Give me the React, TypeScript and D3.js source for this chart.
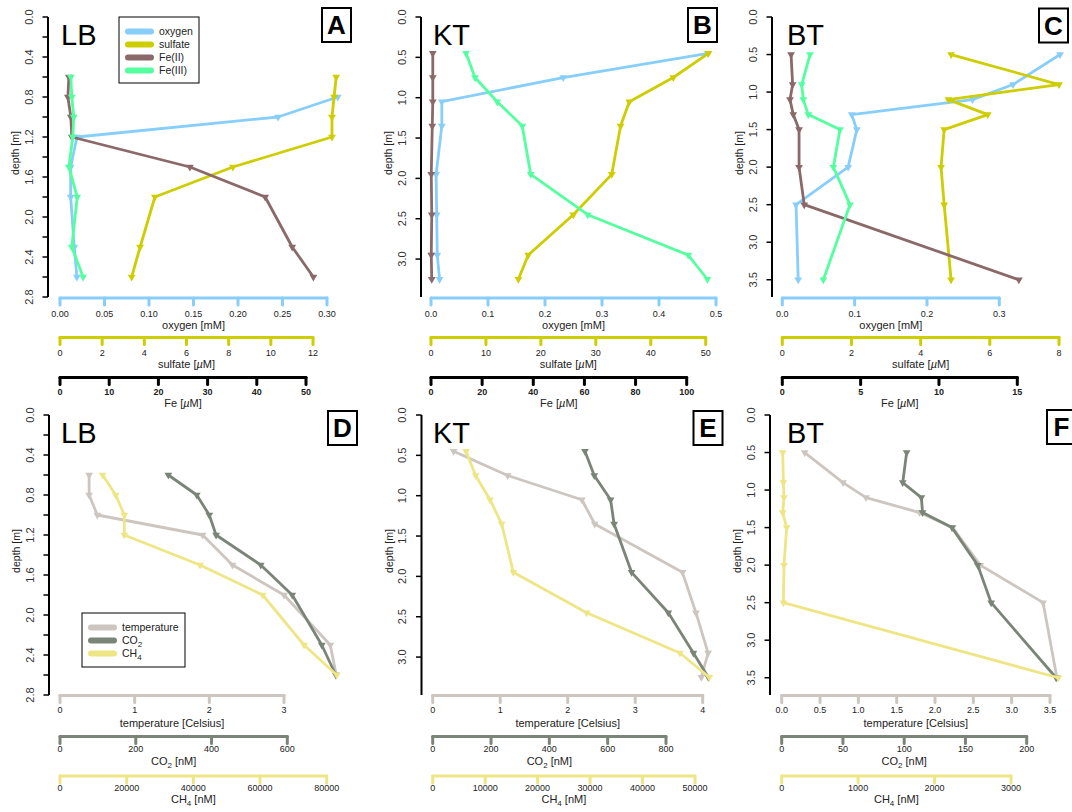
import React from "react";
import * as d3 from "d3";

// depth profiles [m]
const depthLB = [0.6, 0.8, 1.0, 1.2, 1.5, 1.8, 2.3, 2.6];
const depthLBoxygen = [0.8, 1.0, 1.2, 1.5, 1.8, 2.3, 2.6];
const depthKT = [0.45, 0.75, 1.05, 1.35, 1.95, 2.45, 2.95, 3.25];
const depthBT = [0.5, 0.9, 1.1, 1.3, 1.5, 2.0, 2.5, 3.5];

// LB
const oxygenLB = [0.312, 0.245, 0.019, 0.012, 0.012, 0.016, 0.019];
const sulfateLB = [13.1, 13.0, 12.9, 12.9, 8.2, 4.5, 3.8, 3.4];
const fe2LB = [1.8, 1.6, 2.2, 2.4, 26.4, 41.7, 47.2, 51.5];
const fe3LB = [2.2, 2.4, 2.8, 2.6, 1.8, 3.5, 2.4, 4.7];
const tempLB = [0.39, 0.39, 0.5, 1.91, 2.31, 3.0, 3.62, 3.7];
const co2LB = [286, 361, 394, 412, 530, 613, 691, 728];
const ch4LB = [12800, 16700, 19300, 19300, 42000, 60800, 73200, 83000];

// KT
const oxygenKT = [0.486, 0.232, 0.019, 0.019, 0.009, 0.01, 0.011, 0.015];
const sulfateKT = [50.5, 44.1, 36.1, 34.5, 32.9, 25.9, 17.7, 15.9];
const fe2KT = [0.7, 0.7, 0.7, 0.5, 0.1, 0.3, 0.1, 0.3];
const fe3KT = [13.7, 17.2, 25.9, 35.7, 39.0, 61.3, 100.6, 108.1];
const tempKT = [0.31, 1.11, 2.21, 2.4, 3.7, 3.9, 4.08, 3.98];
const co2KT = [522, 554, 610, 622, 682, 808, 894, 945];
const ch4KT = [6350, 8190, 10920, 13150, 15370, 29350, 47130, 52720];

// BT
const oxygenBT = [0.384, 0.319, 0.263, 0.096, 0.103, 0.091, 0.019, 0.022];
const sulfateBT = [4.88, 8.0, 4.8, 5.94, 4.68, 4.59, 4.68, 4.88];
const fe2BT = [0.56, 0.66, 0.49, 0.7, 1.07, 1.07, 1.4, 15.1];
const fe3BT = [1.77, 1.24, 1.34, 1.66, 3.68, 3.26, 4.32, 2.62];
const tempBT = [0.3, 0.8, 1.1, 1.8, 2.23, 2.59, 3.41, 3.59];
const co2BT = [102, 98.8, 114, 115, 139, 160, 171, 224];
const ch4BT = [13, 22, 30, 13, 65, 30, 22, 3619];

// tick values
const depthTicksLB = [0, 0.2, 0.4, 0.6, 0.8, 1.0, 1.2, 1.4, 1.6, 1.8, 2.0, 2.2, 2.4, 2.6, 2.8];
const depthTicksKT = [0, 0.5, 1.0, 1.5, 2.0, 2.5, 3.0];
const depthTicksBT = [0, 0.5, 1.0, 1.5, 2.0, 2.5, 3.0, 3.5];
const oxygenTicksLB = [0, 0.05, 0.1, 0.15, 0.2, 0.25, 0.3];
const oxygenTicksKT = [0, 0.1, 0.2, 0.3, 0.4, 0.5];
const oxygenTicksBT = [0, 0.1, 0.2, 0.3];
const sulfateTicksLB = [0, 2, 4, 6, 8, 10, 12];
const sulfateTicksKT = [0, 10, 20, 30, 40, 50];
const sulfateTicksBT = [0, 2, 4, 6, 8];
const feTicksLB = [0, 10, 20, 30, 40, 50];
const feTicksKT = [0, 20, 40, 60, 80, 100];
const feTicksBT = [0, 5, 10, 15];
const tempTicksLB = [0, 1, 2, 3];
const tempTicksKT = [0, 1, 2, 3, 4];
const tempTicksBT = [0, 0.5, 1.0, 1.5, 2.0, 2.5, 3.0, 3.5];
const co2TicksLB = [0, 200, 400, 600];
const co2TicksKT = [0, 200, 400, 600, 800];
const co2TicksBT = [0, 50, 100, 150, 200];
const ch4TicksLB = [0, 20000, 40000, 60000, 80000];
const ch4TicksKT = [0, 10000, 20000, 30000, 40000, 50000];
const ch4TicksBT = [0, 1000, 2000, 3000];

const FONT = "'Liberation Sans', Arial, Helvetica, sans-serif";
const C = {
  oxygen: "#87CEFA",
  sulfate: "#CDCD00",
  fe2: "#8B6969",
  fe3: "#54FF9F",
  fe: "#000000",
  temp: "#CDC5BF",
  co2: "#7A8578",
  ch4: "#EEE685",
};

const mu = <tspan fontStyle="italic">µ</tspan>;
const T = {
  oxygen: <>oxygen [mM]</>,
  sulfate: <>sulfate [{mu}M]</>,
  fe: <>Fe [{mu}M]</>,
  temp: <>temperature [Celsius]</>,
  co2: <>CO<tspan fontSize="8" dy="3">2</tspan><tspan dy="-3"> [nM]</tspan></>,
  ch4: <>CH<tspan fontSize="8" dy="3">4</tspan><tspan dy="-3"> [nM]</tspan></>,
};

const ROWS = [
  { top: 17, bottom: 297, axisY: [298, 337.5, 377.5], numY: [316.5, 355.5, 395], titleY: [328.5, 368, 406.5] },
  { top: 415, bottom: 695, axisY: [695.5, 736.5, 776], numY: [712.5, 751.5, 790.5], titleY: [727, 765, 803] },
];

const chemAxes = (oxT, oxEnd, oxFmt, suT, suEnd, feT, feEnd) => [
  { ticks: oxT, end: oxEnd, fmt: oxFmt, color: C.oxygen, title: T.oxygen },
  { ticks: suT, end: suEnd, fmt: "d", color: C.sulfate, title: T.sulfate },
  { ticks: feT, end: feEnd, fmt: "d", color: C.fe, title: T.fe, bold: true },
];
const gasAxes = (tT, tEnd, tFmt, cT, cEnd, mT, mEnd) => [
  { ticks: tT, end: tEnd, fmt: tFmt, color: C.temp, title: T.temp },
  { ticks: cT, end: cEnd, fmt: "d", color: C.co2, title: T.co2 },
  { ticks: mT, end: mEnd, fmt: "d", color: C.ch4, title: T.ch4 },
];

const panels = [
  {
    site: "LB", letter: "A", row: 0, axisX: 48, x0: 60, siteX: 61, box: [322, 8], yMax: 2.8,
    depthTicks: depthTicksLB, labelEvery: 2,
    axes: chemAxes(oxygenTicksLB, 327, ".2f", sulfateTicksLB, 313, feTicksLB, 306),
    series: [
      { depth: depthLBoxygen, values: oxygenLB, color: C.oxygen, axis: 0 },
      { depth: depthLB, values: sulfateLB, color: C.sulfate, axis: 1 },
      { depth: depthLB, values: fe2LB, color: C.fe2, axis: 2 },
      { depth: depthLB, values: fe3LB, color: C.fe3, axis: 2 },
    ],
    legend: { x: 119, y: 17, w: 80, h: 66, items: [["oxygen", C.oxygen], ["sulfate", C.sulfate], ["Fe(II)", C.fe2], ["Fe(III)", C.fe3]] },
  },
  {
    site: "KT", letter: "B", row: 0, axisX: 421, x0: 431, siteX: 433, box: [688, 8], yMax: 3.47,
    depthTicks: depthTicksKT, labelEvery: 1,
    axes: chemAxes(oxygenTicksKT, 716, ".1f", sulfateTicksKT, 705.7, feTicksKT, 686.7),
    series: [
      { depth: depthKT, values: oxygenKT, color: C.oxygen, axis: 0 },
      { depth: depthKT, values: sulfateKT, color: C.sulfate, axis: 1 },
      { depth: depthKT, values: fe2KT, color: C.fe2, axis: 2 },
      { depth: depthKT, values: fe3KT, color: C.fe3, axis: 2 },
    ],
  },
  {
    site: "BT", letter: "C", row: 0, axisX: 772, x0: 782.3, siteX: 787, box: [1039, 8.5], yMax: 3.73,
    depthTicks: depthTicksBT, labelEvery: 1,
    axes: chemAxes(oxygenTicksBT, 999.3, ".1f", sulfateTicksBT, 1059, feTicksBT, 1017.3),
    series: [
      { depth: depthBT, values: oxygenBT, color: C.oxygen, axis: 0 },
      { depth: depthBT, values: sulfateBT, color: C.sulfate, axis: 1 },
      { depth: depthBT, values: fe2BT, color: C.fe2, axis: 2 },
      { depth: depthBT, values: fe3BT, color: C.fe3, axis: 2 },
    ],
  },
  {
    site: "LB", letter: "D", row: 1, axisX: 49, x0: 60, siteX: 61, box: [328, 411], yMax: 2.8,
    depthTicks: depthTicksLB, labelEvery: 2,
    axes: gasAxes(tempTicksLB, 284, "d", co2TicksLB, 287.3, ch4TicksLB, 326.7),
    series: [
      { depth: depthLB, values: tempLB, color: C.temp, axis: 0 },
      { depth: depthLB, values: co2LB, color: C.co2, axis: 1 },
      { depth: depthLB, values: ch4LB, color: C.ch4, axis: 2 },
    ],
    legend: { x: 82, y: 613, w: 103, h: 54, items: [["temperature", C.temp], ["CO2", C.co2], ["CH4", C.ch4]] },
  },
  {
    site: "KT", letter: "E", row: 1, axisX: 421.5, x0: 432.7, siteX: 433, box: [693.5, 411], yMax: 3.47,
    depthTicks: depthTicksKT, labelEvery: 1,
    axes: gasAxes(tempTicksKT, 702.7, "d", co2TicksKT, 666, ch4TicksKT, 695),
    series: [
      { depth: depthKT, values: tempKT, color: C.temp, axis: 0 },
      { depth: depthKT, values: co2KT, color: C.co2, axis: 1 },
      { depth: depthKT, values: ch4KT, color: C.ch4, axis: 2 },
    ],
  },
  {
    site: "BT", letter: "F", row: 1, axisX: 770, x0: 781.7, siteX: 787, box: [1047, 410], yMax: 3.73,
    depthTicks: depthTicksBT, labelEvery: 1,
    axes: gasAxes(tempTicksBT, 1050, ".1f", co2TicksBT, 1026.7, ch4TicksBT, 1011),
    series: [
      { depth: depthBT, values: tempBT, color: C.temp, axis: 0 },
      { depth: depthBT, values: co2BT, color: C.co2, axis: 1 },
      { depth: depthBT, values: ch4BT, color: C.ch4, axis: 2 },
    ],
  },
];

const legendLabel = (s) => {
  if (s === "CO2") return <>CO<tspan fontSize="8" dy="3">2</tspan></>;
  if (s === "CH4") return <>CH<tspan fontSize="8" dy="3">4</tspan></>;
  return s;
};

function Panel({ p }) {
  const row = ROWS[p.row];
  const y = d3.scaleLinear().domain([0, p.yMax]).range([row.top, row.bottom]);
  const xs = p.axes.map((a) =>
    d3.scaleLinear().domain([0, a.ticks[a.ticks.length - 1]]).range([p.x0, a.end])
  );
  const tri = d3.symbol().type(d3.symbolTriangle).size(26)();
  const midY = (row.top + row.bottom) / 2 - 4;

  return (
    <g>
      {/* depth axis */}
      <line x1={p.axisX} x2={p.axisX} y1={y(0)} y2={y(p.yMax)} stroke="#000" strokeWidth={2} />
      {p.depthTicks.map((t, i) => (
        <g key={"d" + i}>
          <line x1={p.axisX - 5.5} x2={p.axisX} y1={y(t)} y2={y(t)} stroke="#000" strokeWidth={1.5} />
          {i % p.labelEvery === 0 && (
            <text
              transform={`translate(${p.axisX - 19},${y(t)}) rotate(-90)`}
              dy="0.35em" textAnchor="middle" fontSize={11} fill="#333"
            >
              {d3.format(".1f")(t)}
            </text>
          )}
        </g>
      ))}
      <text transform={`translate(${p.axisX - 32.5},${midY}) rotate(-90)`} dy="0.35em"
        textAnchor="middle" fontSize={10.5} fill="#222">depth [m]</text>

      {/* value axes */}
      {p.axes.map((a, k) => {
        const x = xs[k];
        const ly = row.axisY[k];
        return (
          <g key={"a" + k}>
            <line x1={x(0)} x2={a.end} y1={ly} y2={ly} stroke={a.color} strokeWidth={3} strokeLinecap="round" />
            {a.ticks.map((t, i) => (
              <g key={i}>
                <line x1={x(t)} x2={x(t)} y1={ly} y2={ly + 7} stroke={a.color} strokeWidth={3} strokeLinecap="round" />
                <text x={x(t)} y={row.numY[k]} textAnchor="middle" fontSize={9}
                  fontWeight={a.bold ? "bold" : "normal"} fill="#222">
                  {d3.format(a.fmt)(t)}
                </text>
              </g>
            ))}
            <text x={(x(0) + a.end) / 2} y={row.titleY[k]} textAnchor="middle" fontSize={11} fill="#222">
              {a.title}
            </text>
          </g>
        );
      })}

      {/* profiles */}
      {p.series.map((s, si) => {
        const x = xs[s.axis];
        const line = d3.line().x((v) => x(v)).y((_, i) => y(s.depth[i]));
        return (
          <g key={"s" + si}>
            <path d={line(s.values)} fill="none" stroke={s.color} strokeWidth={2.8}
              strokeLinejoin="round" strokeLinecap="round" />
            {s.values.map((v, i) => (
              <path key={i} d={tri} fill={s.color}
                transform={`translate(${x(v)},${y(s.depth[i])}) rotate(180)`} />
            ))}
          </g>
        );
      })}

      {/* site label and letter */}
      <text x={p.siteX} y={row.top + 28} fontSize={29} fill="#000">{p.site}</text>
      <rect x={p.box[0]} y={p.box[1]} width={29} height={34} fill="#fff" stroke="#000" strokeWidth={2} />
      <text x={p.box[0] + 14.5} y={p.box[1] + 26} textAnchor="middle" fontSize={26} fontWeight="bold">{p.letter}</text>

      {p.legend && (
        <g>
          <rect x={p.legend.x} y={p.legend.y} width={p.legend.w} height={p.legend.h}
            fill="#fff" stroke="#000" strokeWidth={1} />
          {p.legend.items.map(([name, col], i) => {
            const ly = p.legend.y + 14.5 + i * 13;
            return (
              <g key={i}>
                <line x1={p.legend.x + 9} x2={p.legend.x + 32} y1={ly} y2={ly} stroke={col}
                  strokeWidth={6} strokeLinecap="round" />
                <text x={p.legend.x + 40} y={ly} dy="0.35em" fontSize={10.5} fill="#222">
                  {legendLabel(name)}
                </text>
              </g>
            );
          })}
        </g>
      )}
    </g>
  );
}

export default function App() {
  return (
    <svg width={1072} height={812} style={{ position: "absolute", left: 0, top: 0, background: "#fff" }}
      fontFamily={FONT}>
      {panels.map((p) => (
        <Panel key={p.letter} p={p} />
      ))}
    </svg>
  );
}
